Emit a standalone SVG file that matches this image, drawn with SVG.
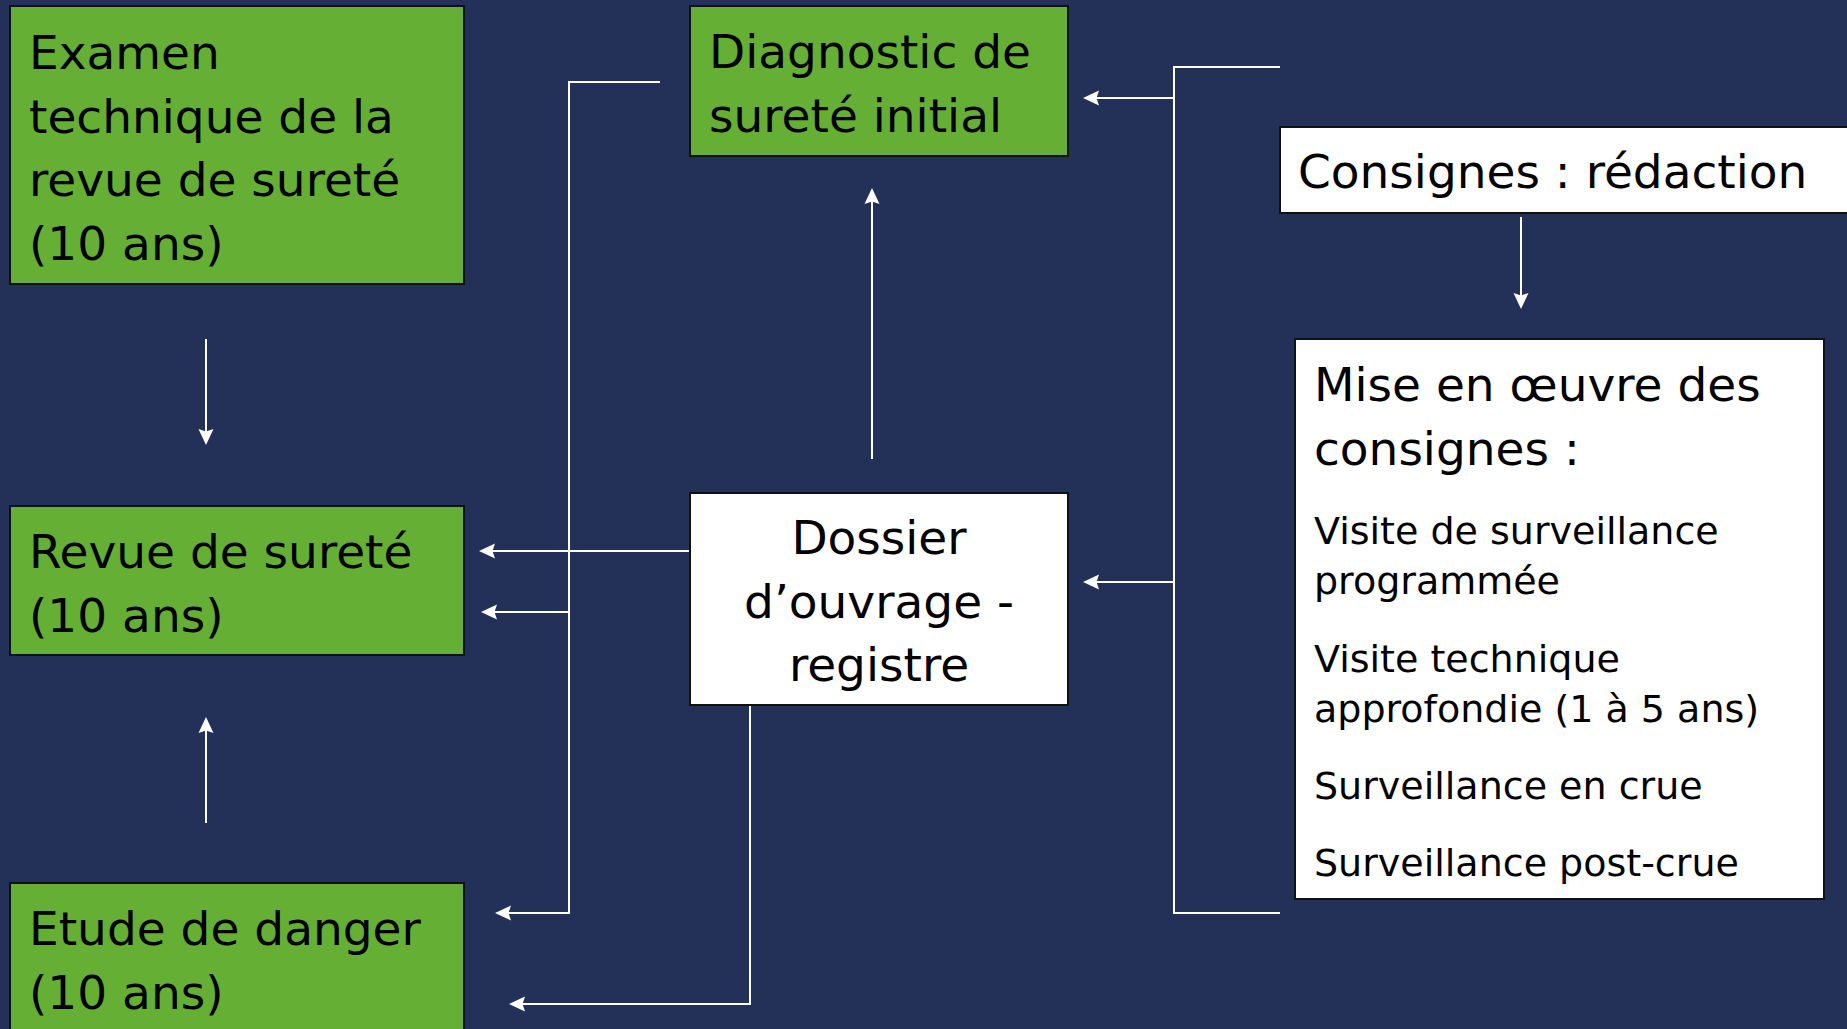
<svg xmlns="http://www.w3.org/2000/svg" width="1847" height="1029" viewBox="0 0 1847 1029">
<style>
.bg{fill:#233158}
.g{fill:#65AF35;stroke:#111;stroke-width:2}
.w{fill:#ffffff;stroke:#111;stroke-width:2}
.t{font-family:"DejaVu Sans","Verdana","Liberation Sans",sans-serif;font-size:47px;fill:#000}
.s{font-size:38px}
.c{fill:none;stroke:#ffffff;stroke-width:2}
</style>
<defs>
<marker id="ah" markerUnits="userSpaceOnUse" viewBox="0 0 16 16" markerWidth="16" markerHeight="16" refX="4" refY="8" orient="auto">
<path d="M0,0.5 L16,8 L0,15.5 L2.5,8 Z" fill="#ffffff"/>
</marker>
</defs>
<rect class="bg" x="0" y="0" width="1847" height="1029"/>

<g id="connectors">
<path class="c" d="M206,339 V433" marker-end="url(#ah)"/>
<path class="c" d="M206,823 V729" marker-end="url(#ah)"/>
<path class="c" d="M872,459 V200" marker-end="url(#ah)"/>
<path class="c" d="M1521,217 V297" marker-end="url(#ah)"/>
<path class="c" d="M1280,67 H1174 V913 H1280"/>
<path class="c" d="M1174,98 H1095" marker-end="url(#ah)"/>
<path class="c" d="M1174,582 H1095" marker-end="url(#ah)"/>
<path class="c" d="M660,82 H569 V913 H507" marker-end="url(#ah)"/>
<path class="c" d="M569,612 H493" marker-end="url(#ah)"/>
<path class="c" d="M690,551 H491" marker-end="url(#ah)"/>
<path class="c" d="M750,705 V1004 H521" marker-end="url(#ah)"/>
</g>

<g id="examen">
<rect class="g" x="10" y="6" width="454" height="278"/>
<text class="t" x="29" y="69">Examen</text>
<text class="t" x="29" y="133">technique de la</text>
<text class="t" x="29" y="196">revue de sureté</text>
<text class="t" x="29" y="260">(10 ans)</text>
</g>

<g id="diagnostic">
<rect class="g" x="690" y="6" width="378" height="150"/>
<text class="t" x="709" y="68">Diagnostic de</text>
<text class="t" x="709" y="132">sureté initial</text>
</g>

<g id="revue">
<rect class="g" x="10" y="506" width="454" height="149"/>
<text class="t" x="29" y="568">Revue de sureté</text>
<text class="t" x="29" y="632">(10 ans)</text>
</g>

<g id="etude">
<rect class="g" x="10" y="883" width="454" height="170"/>
<text class="t" x="29" y="945">Etude de danger</text>
<text class="t" x="29" y="1009">(10 ans)</text>
</g>

<g id="dossier">
<rect class="w" x="690" y="493" width="378" height="212"/>
<text class="t" x="879" y="554" text-anchor="middle">Dossier</text>
<text class="t" x="879" y="618" text-anchor="middle">d’ouvrage -</text>
<text class="t" x="879" y="681" text-anchor="middle">registre</text>
</g>

<g id="consignes">
<rect class="w" x="1280" y="127" width="580" height="86"/>
<text class="t" x="1298" y="188">Consignes : rédaction</text>
</g>

<g id="mise">
<rect class="w" x="1295" y="339" width="529" height="560"/>
<text class="t" x="1314" y="401">Mise en œuvre des</text>
<text class="t" x="1314" y="465">consignes :</text>
<text class="t s" x="1314" y="544">Visite de surveillance</text>
<text class="t s" x="1314" y="594">programmée</text>
<text class="t s" x="1314" y="672">Visite technique</text>
<text class="t s" x="1314" y="722">approfondie (1 à 5 ans)</text>
<text class="t s" x="1314" y="799">Surveillance en crue</text>
<text class="t s" x="1314" y="876">Surveillance post-crue</text>
</g>
</svg>
